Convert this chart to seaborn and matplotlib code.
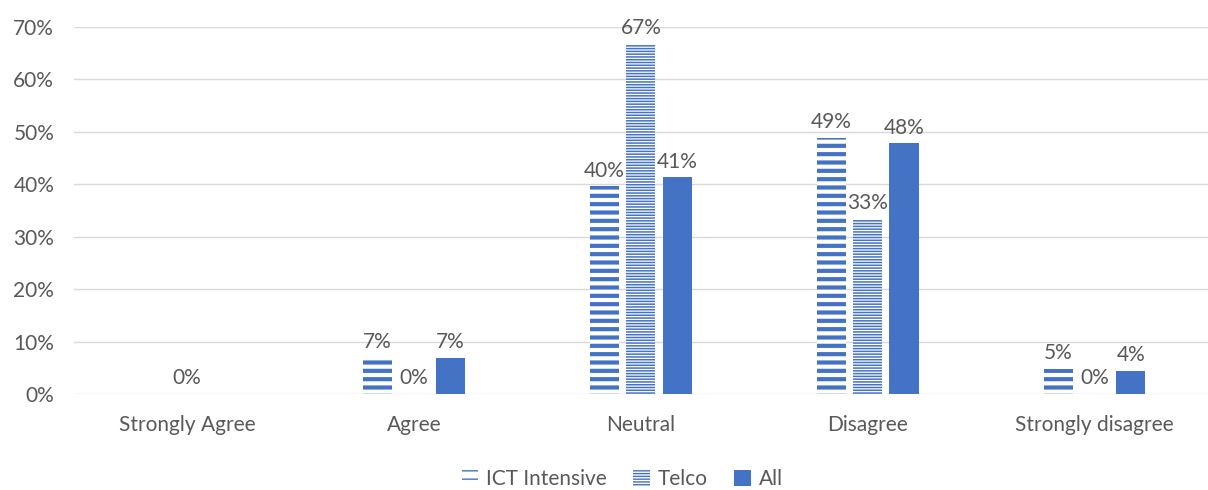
import numpy as np
import pandas as pd
import seaborn as sns
import matplotlib
matplotlib.use('Agg')
from matplotlib import pyplot as plt
from matplotlib.patches import Patch
from matplotlib.ticker import FuncFormatter

# data (percent)
categories = ['Strongly Agree', 'Agree', 'Neutral', 'Disagree', 'Strongly disagree']
series = ['ICT Intensive', 'Telco', 'All']
ict = [np.nan, 6.9, 39.6, 48.9, 4.8]
telco = [0.0, 0.0, 66.8, 33.4, 0.0]
all_resp = [np.nan, 6.9, 41.3, 47.8, 4.4]

rows = []
for s, vals in zip(series, [ict, telco, all_resp]):
    for c, v in zip(categories, vals):
        rows.append({'Response': c, 'Series': s, 'Share': v})
df = pd.DataFrame(rows)

blue = '#4472C4'
grey = '#595959'
fs = 15
hatches = {'ICT Intensive': '--', 'Telco': '------', 'All': ''}
hatch_lw = {'ICT Intensive': 3.0, 'Telco': 1.1, 'All': 1.0}

sns.set_style('white')
plt.rcParams['font.family'] = ['Lato', 'DejaVu Sans']

fig = plt.figure(figsize=(12.08, 4.9), dpi=100)
ax = fig.add_axes([0.061, 0.196, 0.939, 0.749])

sns.barplot(data=df, x='Response', y='Share', hue='Series', hue_order=series,
            order=categories, palette=[blue] * 3, width=0.48, gap=0.2,
            errorbar=None, legend=False, ax=ax)


def style_patch(p, s):
    if hatches[s]:
        p.set_facecolor('white')
        p.set_edgecolor(blue)
        p.set_linewidth(0)
        p.set_hatch(hatches[s])
        if hasattr(p, 'set_hatch_linewidth'):
            p.set_hatch_linewidth(hatch_lw[s])
    else:
        p.set_facecolor(blue)
        p.set_linewidth(0)


for cont, s in zip(ax.containers, series):
    for bar in cont:
        style_patch(bar, s)
    labels = ['' if np.isnan(v) else f'{v:.0f}%' for v in cont.datavalues]
    ax.bar_label(cont, labels=labels, padding=4, color=grey, fontsize=fs)

ax.set_ylim(0, 70)
ax.set_xlim(-0.5, 4.5)
ax.set_yticks(range(0, 71, 10))
ax.yaxis.set_major_formatter(FuncFormatter(lambda v, p: f'{v:.0f}%'))
ax.grid(axis='y', color='#D9D9D9', linewidth=1)
ax.set_axisbelow(True)
for sp in ax.spines.values():
    sp.set_visible(False)
ax.tick_params(axis='both', length=0, labelcolor=grey, labelsize=fs)
ax.tick_params(axis='y', pad=14)
ax.tick_params(axis='x', pad=15)
ax.set_xlabel('')
ax.set_ylabel('')

handles = []
for s in series:
    h = Patch()
    style_patch(h, s)
    handles.append(h)
fig.legend(handles, series, loc='lower center', bbox_to_anchor=(0.515, -0.037), ncol=3,
           frameon=False, fontsize=fs, labelcolor=grey, handlelength=0.8,
           handleheight=0.8, handletextpad=0.35, columnspacing=1.3)

fig.savefig('out.png', dpi=100)
